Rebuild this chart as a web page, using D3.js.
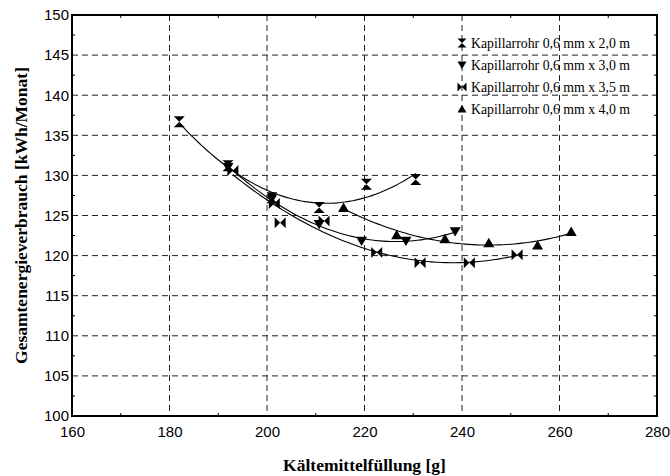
<!DOCTYPE html>
<html>
<head>
<meta charset="utf-8">
<script src="https://cdn.jsdelivr.net/npm/d3@7.9.0/dist/d3.min.js"></script>
<style>
  body { margin: 0; background: #fff; }
  svg { display: block; }
</style>
</head>
<body>
<svg id="chart" width="670" height="476"></svg>
<script>
// ---- data ----
const seriesNames = [
  'Kapillarrohr 0,6 mm x 2,0 m',
  'Kapillarrohr 0,6 mm x 3,0 m',
  'Kapillarrohr 0,6 mm x 3,5 m',
  'Kapillarrohr 0,6 mm x 4,0 m'
];
const seriesSymbols = ['hourglass', 'down', 'bowtie', 'up'];

const fill20 = [182, 192, 201, 210.7, 220.4, 230.5];
const use20  = [136.7, 131.2, 127.2, 126.0, 128.9, 129.5];

const fill30 = [192, 201, 210.7, 219.4, 228.5, 238.6];
const use30  = [131.0, 127.1, 123.9, 121.8, 121.8, 123.0];

const fill35 = [193, 201.5, 202.7, 211.7, 222.5, 231.4, 241.5, 251.3];
const use35  = [130.6, 126.5, 124.1, 124.3, 120.4, 119.1, 119.1, 120.1];

const fill40 = [215.7, 226.6, 236.5, 245.5, 255.5, 262.4];
const use40  = [126.0, 122.6, 122.1, 121.6, 121.3, 123.0];

const xTicks = [160, 180, 200, 220, 240, 260, 280];
const yTicks = [100, 105, 110, 115, 120, 125, 130, 135, 140, 145, 150];

const series = [
  { name: seriesNames[0], sym: seriesSymbols[0], xs: fill20, ys: use20 },
  { name: seriesNames[1], sym: seriesSymbols[1], xs: fill30, ys: use30 },
  { name: seriesNames[2], sym: seriesSymbols[2], xs: fill35, ys: use35 },
  { name: seriesNames[3], sym: seriesSymbols[3], xs: fill40, ys: use40 }
];

// ---- layout ----
const margin = { top: 15, right: 13, bottom: 60, left: 72 };
const W = 670, H = 476;
const width = W - margin.left - margin.right;
const height = H - margin.top - margin.bottom;

const svg = d3.select('#chart');
const g = svg.append('g').attr('transform', `translate(${margin.left},${margin.top})`);

const x = d3.scaleLinear().domain([160, 280]).range([0, width]);
const y = d3.scaleLinear().domain([100, 150]).range([height, 0]);

// gridlines
g.append('g')
  .selectAll('line')
  .data(xTicks.slice(1, -1))
  .join('line')
  .attr('x1', d => x(d)).attr('x2', d => x(d))
  .attr('y1', 0).attr('y2', height)
  .attr('stroke', '#222').attr('stroke-width', 1)
  .attr('stroke-dasharray', '6,4');

g.append('g')
  .selectAll('line')
  .data(yTicks.slice(1, -1))
  .join('line')
  .attr('y1', d => y(d)).attr('y2', d => y(d))
  .attr('x1', 0).attr('x2', width)
  .attr('stroke', '#222').attr('stroke-width', 1)
  .attr('stroke-dasharray', '6,4');

// minor ticks on all sides (inward)
const minorX = d3.range(170, 280, 20);
const minorY = d3.range(102.5, 150, 5);
const ticks = g.append('g').attr('stroke', '#000').attr('stroke-width', 1);
minorX.forEach(v => {
  ticks.append('line').attr('x1', x(v)).attr('x2', x(v)).attr('y1', height).attr('y2', height - 3);
  ticks.append('line').attr('x1', x(v)).attr('x2', x(v)).attr('y1', 0).attr('y2', 3);
});
minorY.forEach(v => {
  ticks.append('line').attr('y1', y(v)).attr('y2', y(v)).attr('x1', 0).attr('x2', 3);
  ticks.append('line').attr('y1', y(v)).attr('y2', y(v)).attr('x1', width).attr('x2', width - 3);
});

// tick labels via d3 axes (no tick lines)
const xAxis = g.append('g')
  .attr('transform', `translate(0,${height})`)
  .call(d3.axisBottom(x).tickValues(xTicks).tickSize(0).tickPadding(10).tickFormat(d3.format('d')));
xAxis.select('.domain').remove();
xAxis.selectAll('text').attr('font-family', 'Liberation Sans, Arial, sans-serif').attr('font-size', 15).attr('fill', '#000');

const yAxis = g.append('g')
  .call(d3.axisLeft(y).tickValues(yTicks).tickSize(0).tickPadding(3).tickFormat(d3.format('d')));
yAxis.select('.domain').remove();
yAxis.selectAll('text').attr('font-family', 'Liberation Sans, Arial, sans-serif').attr('font-size', 15).attr('fill', '#000');

// frame
g.append('rect')
  .attr('x', 0).attr('y', 0).attr('width', width).attr('height', height)
  .attr('fill', 'none').attr('stroke', '#000').attr('stroke-width', 2);

// quadratic least-squares trend for each series
function quadFit(xs, ys) {
  let s = [0, 0, 0, 0, 0], t = [0, 0, 0];
  const x0 = d3.mean(xs);
  xs.forEach((xv, i) => {
    const u = xv - x0;
    for (let k = 0; k < 5; k++) s[k] += Math.pow(u, k);
    for (let k = 0; k < 3; k++) t[k] += ys[i] * Math.pow(u, k);
  });
  const A = [[s[0], s[1], s[2]], [s[1], s[2], s[3]], [s[2], s[3], s[4]]];
  const b = t.slice();
  for (let i = 0; i < 3; i++) {
    for (let j = i + 1; j < 3; j++) {
      const f = A[j][i] / A[i][i];
      for (let k = i; k < 3; k++) A[j][k] -= f * A[i][k];
      b[j] -= f * b[i];
    }
  }
  const c = [0, 0, 0];
  for (let i = 2; i >= 0; i--) {
    let sum = b[i];
    for (let k = i + 1; k < 3; k++) sum -= A[i][k] * c[k];
    c[i] = sum / A[i][i];
  }
  return xv => c[0] + c[1] * (xv - x0) + c[2] * (xv - x0) * (xv - x0);
}

const line = d3.line().x(d => x(d[0])).y(d => y(d[1]));
series.forEach(s => {
  const f = quadFit(s.xs, s.ys);
  const [lo, hi] = d3.extent(s.xs);
  const pts = d3.range(0, 61).map(i => {
    const xv = lo + (hi - lo) * i / 60;
    return [xv, f(xv)];
  });
  g.append('path')
    .attr('d', line(pts))
    .attr('fill', 'none').attr('stroke', '#000').attr('stroke-width', 1.1);
});

// marker shapes
function symbolPath(sym, r) {
  if (sym === 'hourglass') return `M${-r},${-r}H${r}L${-r},${r}H${r}Z`;
  if (sym === 'bowtie') return `M${-r},${-r}V${r}L${r},${-r}V${r}Z`;
  if (sym === 'down') return `M${-r},${-r * 0.8}H${r}L0,${r * 0.9}Z`;
  return `M${-r},${r * 0.8}H${r}L0,${-r * 0.9}Z`;
}

series.forEach(s => {
  g.append('g')
    .selectAll('path')
    .data(s.xs.map((xv, i) => [xv, s.ys[i]]))
    .join('path')
    .attr('transform', d => `translate(${x(d[0])},${y(d[1])})`)
    .attr('d', symbolPath(s.sym, 5.5))
    .attr('fill', '#000');
});

// legend
const legend = g.append('g').attr('transform', `translate(${x(240)},28)`);
series.forEach((s, i) => {
  const row = legend.append('g').attr('transform', `translate(0,${i * 22})`);
  row.append('path').attr('d', symbolPath(s.sym, 4.5)).attr('fill', '#000');
  row.append('text')
    .attr('x', 9).attr('y', 4.5)
    .attr('font-family', 'Liberation Serif, Times New Roman, serif')
    .attr('font-size', 13.8)
    .text(s.name);
});

// axis titles
svg.append('text')
  .attr('x', margin.left + width / 2).attr('y', 471)
  .attr('text-anchor', 'middle')
  .attr('font-family', 'Liberation Serif, Times New Roman, serif')
  .attr('font-weight', 'bold').attr('font-size', 17.5)
  .text('Kältemittelfüllung [g]');

svg.append('text')
  .attr('transform', `translate(27,${margin.top + height / 2}) rotate(-90)`)
  .attr('text-anchor', 'middle')
  .attr('font-family', 'Liberation Serif, Times New Roman, serif')
  .attr('font-weight', 'bold').attr('font-size', 17.5)
  .text('Gesamtenergieverbrauch [kWh/Monat]');
</script>
</body>
</html>
